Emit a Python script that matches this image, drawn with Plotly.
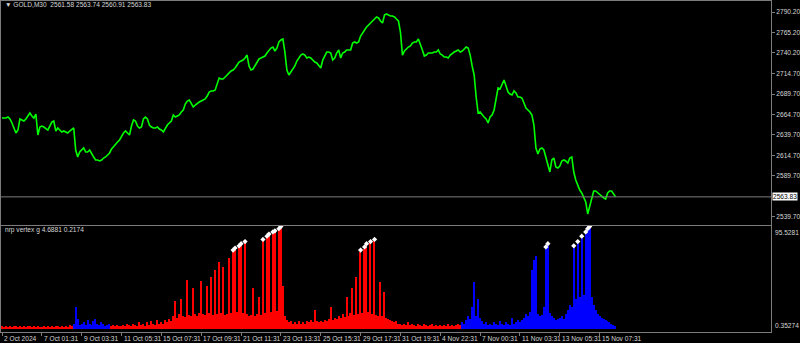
import plotly.graph_objects as go

# ---------------- data ----------------
symbol_title = "GOLD,M30  2561.58 2563.74 2560.91 2563.83"
indicator_title = "nrp vertex g 4.6881 0.2174"

# close prices, one value per sampled bar (left to right)
price = [
    2660.4, 2660.4, 2660.4, 2661.6, 2659.2, 2654.3, 2648.2, 2642.0, 2645.7, 2659.2,
    2658.0, 2656.7, 2659.2, 2662.9, 2666.5, 2662.9, 2660.4, 2665.3, 2639.6, 2649.4,
    2650.6, 2649.4, 2646.9, 2645.7, 2650.6, 2655.5, 2656.7, 2644.5, 2648.2, 2645.7,
    2643.3, 2644.5, 2643.3, 2642.0, 2644.5, 2646.9, 2648.2, 2621.2, 2612.7, 2618.8,
    2621.2, 2623.7, 2618.8, 2618.8, 2621.2, 2616.3, 2612.7, 2609.0, 2609.0, 2607.8,
    2609.0, 2611.4, 2612.7, 2615.1, 2617.6, 2622.5, 2624.9, 2627.4, 2631.0, 2633.5,
    2638.4, 2642.0, 2644.5, 2642.0, 2639.6, 2650.6, 2658.0, 2656.7, 2650.6, 2648.2,
    2649.4, 2659.2, 2661.6, 2659.2, 2651.8, 2649.4, 2648.2, 2648.2, 2649.4, 2646.9,
    2645.7, 2643.3, 2648.2, 2651.8, 2654.3, 2656.7, 2664.1, 2661.6, 2662.9, 2664.1,
    2667.8, 2670.2, 2677.5, 2681.2, 2682.5, 2677.5, 2673.9, 2676.3, 2678.8, 2680.0,
    2681.2, 2682.5, 2683.7, 2687.3, 2692.2, 2693.5, 2693.5, 2694.7, 2702.0, 2709.4,
    2708.2, 2708.2, 2710.6, 2713.1, 2715.5, 2718.0, 2719.2, 2721.6, 2725.3, 2729.0,
    2730.2, 2731.4, 2733.9, 2737.5, 2724.1, 2719.2, 2720.4, 2724.1, 2729.0, 2732.7,
    2733.9, 2735.1, 2736.3, 2740.0, 2743.7, 2746.1, 2747.3, 2742.4, 2746.1, 2753.5,
    2755.9, 2757.1, 2741.2, 2719.2, 2713.1, 2716.7, 2720.4, 2724.1, 2730.2, 2733.9,
    2737.5, 2738.8, 2737.5, 2733.9, 2735.1, 2733.9, 2731.4, 2729.0, 2727.8, 2724.1,
    2721.6, 2731.4, 2737.5, 2741.2, 2741.2, 2740.0, 2731.4, 2733.9, 2740.0, 2743.7,
    2733.9, 2740.0, 2741.2, 2743.7, 2743.7, 2743.7, 2752.2, 2753.5, 2752.2, 2753.5,
    2760.8, 2764.5, 2769.4, 2771.8, 2774.3, 2776.7, 2778.0, 2781.6, 2784.1, 2782.9,
    2779.2, 2776.7, 2786.5, 2787.8, 2786.5, 2785.3, 2785.3, 2784.1, 2781.6, 2779.2,
    2765.7, 2737.5, 2742.4, 2744.9, 2747.3, 2748.6, 2752.2, 2753.5, 2753.5, 2757.1,
    2751.0, 2743.7, 2736.3, 2737.5, 2740.0, 2740.0, 2740.0, 2741.2, 2741.2, 2743.7,
    2738.8, 2737.5, 2735.1, 2735.1, 2733.9, 2737.5, 2740.0, 2741.2, 2742.4, 2743.7,
    2741.2, 2742.4, 2744.9, 2747.3, 2746.1, 2737.5, 2724.1, 2713.1, 2686.1, 2666.5,
    2667.8, 2664.1, 2661.6, 2659.2, 2654.3, 2661.6, 2664.1, 2670.2, 2686.1, 2697.1,
    2695.9, 2702.0, 2706.9, 2699.6, 2692.2, 2689.8, 2688.6, 2693.5, 2691.0, 2686.1,
    2686.1, 2684.9, 2677.5, 2672.7, 2670.2, 2667.8, 2664.1, 2651.8, 2623.7, 2616.3,
    2622.5, 2623.7, 2621.2, 2612.7, 2602.9, 2594.3, 2609.0, 2611.4, 2600.4, 2599.2,
    2601.6, 2607.8, 2609.0, 2607.8, 2605.3, 2611.4, 2612.7, 2594.3, 2584.5, 2578.4,
    2572.2, 2568.6, 2563.7, 2557.6, 2542.9, 2552.7, 2560.0, 2571.0, 2571.0, 2568.6,
    2566.1, 2563.7, 2562.5, 2561.2, 2568.6, 2571.0, 2571.0, 2567.4, 2563.8,
]

# indicator histogram, same bars
indicator = [
    3, 2, 3, 2, 3, 2, 3, 3, 2, 3, 2, 3, 2, 3, 3, 2, 3, 2, 3, 2,
    2, 3, 2, 3, 2, 3, 2, 3, 3, 2, 3, 2, 3, 2, 4, 3, 5, 20, 9, 4,
    5, 6, 4, 8, 5, 4, 7, 9, 5, 4, 6, 5, 3, 4, 5, 3, 4, 3, 4, 3,
    3, 4, 3, 5, 4, 3, 5, 4, 3, 6, 4, 5, 3, 6, 4, 7, 5, 4, 8, 5,
    6, 5, 8, 6, 9, 7, 12, 26, 10, 14, 28, 12, 11, 46, 13, 12, 38, 14, 12, 15,
    45, 14, 13, 40, 15, 48, 13, 55, 14, 62, 15, 58, 13, 14, 66, 15, 72, 74, 16, 76,
    78, 15, 80, 14, 12, 13, 38, 12, 14, 30, 13, 82, 15, 85, 87, 16, 89, 90, 17, 92,
    94, 40, 12, 8, 6, 7, 5, 6, 5, 7, 5, 6, 5, 7, 6, 8, 6, 18, 7, 6,
    7, 6, 8, 7, 9, 20, 8, 10, 9, 12, 10, 14, 11, 30, 12, 15, 38, 13, 48, 14,
    72, 15, 75, 78, 16, 80, 14, 82, 13, 12, 44, 12, 34, 10, 9, 8, 7, 6, 7, 5,
    5, 4, 5, 4, 6, 4, 5, 4, 3, 5, 4, 3, 5, 4, 3, 4, 5, 3, 4, 3,
    4, 3, 4, 3, 5, 3, 4, 3, 4, 5, 4, 6, 5, 8, 12, 9, 20, 44, 12, 28,
    10, 7, 5, 6, 4, 5, 4, 6, 5, 4, 7, 5, 4, 6, 5, 4, 10, 5, 6, 8,
    6, 8, 10, 14, 12, 16, 55, 64, 68, 14, 12, 13, 20, 75, 78, 15, 12, 10, 8, 9,
    10, 12, 9, 14, 18, 22, 20, 76, 28, 80, 30, 85, 32, 89, 92, 94, 30, 22, 18, 14,
    12, 10, 9, 8, 7, 6, 5, 4, 3,
]

# bar index where each colour regime starts
regime_start = [0, 36, 55, 231]
regime_color = ["#ff0000", "#0000ff", "#ff0000", "#0000ff"]
peak_level = 70

time_tick_bar = [0, 20, 40, 60, 80, 100, 120, 140, 160, 180, 200, 220, 240, 260, 280, 300]
time_labels = ["2 Oct 2024", "7 Oct 01:31", "9 Oct 03:31", "11 Oct 05:31", "15 Oct 07:31",
               "17 Oct 09:31", "21 Oct 11:31", "23 Oct 13:31", "25 Oct 15:31", "29 Oct 17:31",
               "31 Oct 19:31", "4 Nov 22:31", "7 Nov 00:31", "11 Nov 03:31", "13 Nov 05:31",
               "15 Nov 07:31"]
price_ticks = [2790.2, 2765.2, 2740.2, 2714.7, 2689.7, 2664.7, 2639.7, 2614.7, 2589.7, 2539.7]
last_price = 2563.83
ind_top_label = 95.5281
ind_bottom_label = 0.35274

# ---------------- build ----------------
n = len(price)
bars = list(range(n))
colors = []
for i in bars:
    c = regime_color[0]
    for s, col in zip(regime_start, regime_color):
        if i >= s:
            c = col
    colors.append(c)

peak_x = [i for i in bars if indicator[i] >= peak_level]
peak_y = [indicator[i] + 1.5 for i in peak_x]

FRAME = "#7c7c7c"
TXT = "#d6d6d6"
FONT = "Liberation Sans"
FS = 6.6

fig = go.Figure()
fig.add_trace(go.Scatter(x=bars, y=price, mode="lines",
                         line=dict(color="#00ff00", width=1.6),
                         xaxis="x", yaxis="y", hoverinfo="skip"))
fig.add_trace(go.Bar(x=bars, y=indicator, width=0.65,
                     marker=dict(color=colors, line=dict(width=0)),
                     xaxis="x2", yaxis="y2", hoverinfo="skip"))
fig.add_trace(go.Scatter(x=peak_x, y=peak_y, mode="markers",
                         marker=dict(color="#ffffff", size=4, symbol="diamond"),
                         xaxis="x2", yaxis="y2", hoverinfo="skip"))

xr = [-0.5, 386]
ind_range = [-2.9, 96.0]
fig.update_layout(
    width=800, height=343,
    margin=dict(l=0, r=27, t=1, b=11),
    paper_bgcolor="#000000", plot_bgcolor="#000000",
    showlegend=False, bargap=0,
    font=dict(family=FONT, size=FS, color=TXT),
    xaxis=dict(domain=[0, 1], range=xr, anchor="y", showgrid=False, zeroline=False,
               showticklabels=False, ticks="", showline=True, mirror=True,
               linecolor=FRAME, linewidth=1),
    yaxis=dict(domain=[0.3233, 1], range=[2529.4, 2803.7], side="right", anchor="x",
               showgrid=False, zeroline=False, showline=True, mirror=True,
               linecolor=FRAME, linewidth=1, ticks="outside", ticklen=3,
               tickcolor=FRAME, tickvals=price_ticks,
               ticktext=[f"{v:.2f}" for v in price_ticks],
               tickfont=dict(family=FONT, size=FS, color=TXT)),
    xaxis2=dict(domain=[0, 1], range=xr, anchor="y2", showgrid=False, zeroline=False,
                showticklabels=False, ticks="outside", ticklen=3, tickcolor=FRAME,
                tickvals=time_tick_bar, showline=True, mirror=True,
                linecolor=FRAME, linewidth=1),
    yaxis2=dict(domain=[0, 0.3202], range=ind_range, side="right", anchor="x2",
                showgrid=False, zeroline=False, showline=True, mirror=True,
                linecolor=FRAME, linewidth=1, ticks="", showticklabels=False),
)

# indicator scale labels (max at top edge, min at bottom edge)
fig.add_annotation(xref="paper", x=1, xanchor="left", xshift=2, yref="paper", y=0.3202,
                   yanchor="top", yshift=-1, text=f"{ind_top_label:.4f}", showarrow=False,
                   font=dict(family=FONT, size=FS, color=TXT))
fig.add_annotation(xref="paper", x=1, xanchor="left", xshift=2, yref="paper", y=0.0,
                   yanchor="bottom", yshift=1, text=f"{ind_bottom_label:.5f}", showarrow=False,
                   font=dict(family=FONT, size=FS, color=TXT))

# bid line
fig.add_shape(type="line", xref="x domain", x0=0, x1=1, yref="y",
              y0=last_price, y1=last_price, line=dict(color=FRAME, width=1))
fig.add_annotation(xref="paper", x=1, xanchor="left", xshift=1, yref="y", y=last_price,
                   text=f"{last_price:.2f}", showarrow=False, bgcolor="#ffffff",
                   font=dict(family=FONT, size=FS, color="#000000"), borderpad=0)

# titles
fig.add_annotation(xref="paper", x=0, xanchor="left", xshift=2, yref="paper", y=0.988,
                   yanchor="middle", text="\u25bc " + symbol_title, showarrow=False,
                   font=dict(family=FONT, size=FS, color=TXT))
fig.add_annotation(xref="paper", x=0, xanchor="left", xshift=2, yref="paper", y=0.308,
                   yanchor="middle", text=indicator_title, showarrow=False,
                   font=dict(family=FONT, size=FS, color=TXT))

# time labels, left aligned at their tick marks
for b, lab in zip(time_tick_bar, time_labels):
    fig.add_annotation(xref="x2", x=b, xanchor="left", xshift=0, yref="paper", y=-0.0196,
                       yanchor="middle", text=lab, showarrow=False,
                       font=dict(family=FONT, size=FS, color=TXT))

fig.write_html("out.html")
